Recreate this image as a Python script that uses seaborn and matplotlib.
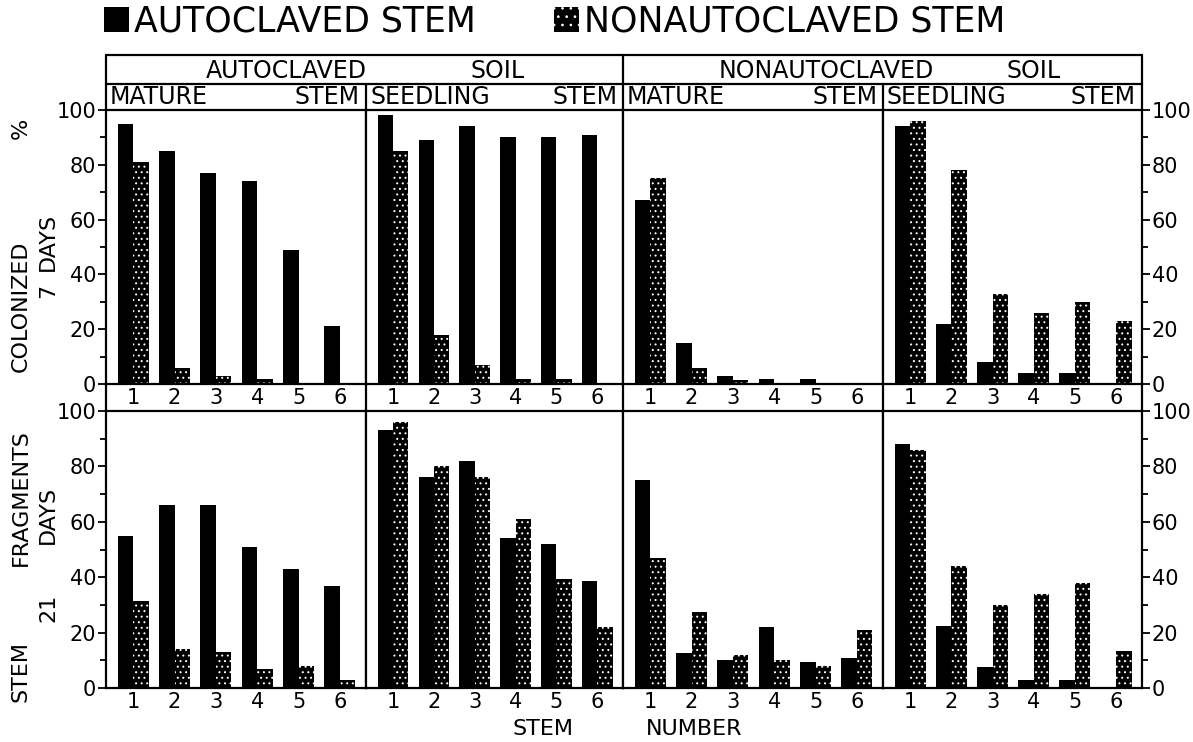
import numpy as np
import pandas as pd
import matplotlib
matplotlib.use("Agg")
import matplotlib.pyplot as plt
import seaborn as sns
from matplotlib.lines import Line2D
from matplotlib.patches import Patch
from matplotlib.ticker import MultipleLocator

# ---------------- data ----------------
stems = ["1", "2", "3", "4", "5", "6"]
treatments = ["AUTOCLAVED STEM", "NONAUTOCLAVED STEM"]
soils = ["AUTOCLAVED", "NONAUTOCLAVED"]
stem_types = ["MATURE", "SEEDLING"]
periods = ["7 DAYS", "21 DAYS"]

# 7 days
d7_auto_mature_auto = [95, 85, 77, 74, 49, 21]
d7_auto_mature_non = [81, 6, 3, 2, 0, 0]
d7_auto_seedling_auto = [98, 89, 94, 90, 90, 91]
d7_auto_seedling_non = [85, 18, 7, 2, 2, 0]
d7_non_mature_auto = [67, 15, 3, 2, 2, 0]
d7_non_mature_non = [75, 6, 1.5, 0, 0, 0]
d7_non_seedling_auto = [94, 22, 8, 4, 4, 0]
d7_non_seedling_non = [96, 78, 33, 26, 30, 23]
# 21 days
d21_auto_mature_auto = [55, 66, 66, 51, 43, 37]
d21_auto_mature_non = [31.5, 14, 13, 7, 8, 3]
d21_auto_seedling_auto = [93, 76, 82, 54, 52, 38.5]
d21_auto_seedling_non = [96, 80, 76, 61, 39.5, 22]
d21_non_mature_auto = [75, 12.5, 10, 22, 9.5, 11]
d21_non_mature_non = [47, 27.5, 12, 10, 8, 21]
d21_non_seedling_auto = [88, 22.5, 7.5, 3, 3, 0]
d21_non_seedling_non = [86, 44, 30, 34, 38, 13.5]

panels = {
    ("7 DAYS", "AUTOCLAVED", "MATURE"): (d7_auto_mature_auto, d7_auto_mature_non),
    ("7 DAYS", "AUTOCLAVED", "SEEDLING"): (d7_auto_seedling_auto, d7_auto_seedling_non),
    ("7 DAYS", "NONAUTOCLAVED", "MATURE"): (d7_non_mature_auto, d7_non_mature_non),
    ("7 DAYS", "NONAUTOCLAVED", "SEEDLING"): (d7_non_seedling_auto, d7_non_seedling_non),
    ("21 DAYS", "AUTOCLAVED", "MATURE"): (d21_auto_mature_auto, d21_auto_mature_non),
    ("21 DAYS", "AUTOCLAVED", "SEEDLING"): (d21_auto_seedling_auto, d21_auto_seedling_non),
    ("21 DAYS", "NONAUTOCLAVED", "MATURE"): (d21_non_mature_auto, d21_non_mature_non),
    ("21 DAYS", "NONAUTOCLAVED", "SEEDLING"): (d21_non_seedling_auto, d21_non_seedling_non),
}

rows = []
for (period, soil, stype), (a, n) in panels.items():
    for s, va, vn in zip(stems, a, n):
        rows.append((period, soil, stype, s, treatments[0], va))
        rows.append((period, soil, stype, s, treatments[1], vn))
df = pd.DataFrame(rows, columns=["period", "soil", "stype", "stem", "treatment", "value"])

# ---------------- style ----------------
sns.set_style("white")
plt.rcParams["font.family"] = ["DejaVu Sans"]
plt.rcParams["hatch.linewidth"] = 0.7
for k in ["text.color", "axes.labelcolor", "xtick.color", "ytick.color"]:
    plt.rcParams[k] = "black"

W, H = 1193, 742
fig = plt.figure(figsize=(W / 100, H / 100), dpi=100)


def fx(x):
    return x / W


def fy(y):
    return 1 - y / H


xedges = [106, 366, 623, 883, 1142]
row_y = [(110, 384), (411, 688)]
LW = 1.6

combos = [(s, t) for s in soils for t in stem_types]
for r, period in enumerate(periods):
    for c, (soil, stype) in enumerate(combos):
        x0, x1 = xedges[c], xedges[c + 1]
        ytop, ybot = row_y[r]
        ax = fig.add_axes([fx(x0), fy(ybot), (x1 - x0) / W, (ybot - ytop) / H])
        sub = df[(df.period == period) & (df.soil == soil) & (df.stype == stype)]
        sns.barplot(data=sub, x="stem", y="value", hue="treatment",
                    hue_order=treatments, order=stems,
                    palette=["black", "black"], saturation=1, width=0.75,
                    gap=0, legend=False, ax=ax, errorbar=None)
        for p in ax.containers[0]:
            p.set_linewidth(0)
        for p in ax.containers[1]:
            p.set_hatch("...")
            p.set_edgecolor("white")
            p.set_linewidth(0)
        ax.set_xlim(-0.66, 5.63)
        ax.set_ylim(0, 100)
        ax.set_xlabel("")
        ax.set_ylabel("")
        for sp in ax.spines.values():
            sp.set_visible(True)
            sp.set_linewidth(LW)
            sp.set_color("black")
        ax.tick_params(axis="x", length=0, pad=3, labelsize=15)
        ax.yaxis.set_major_locator(MultipleLocator(20))
        ax.yaxis.set_minor_locator(MultipleLocator(10))
        if c == 0:
            ax.tick_params(axis="y", which="major", left=True, length=6, width=1.3,
                           labelsize=15, pad=1, direction="out")
            ax.tick_params(axis="y", which="minor", left=True, length=4, width=1.3,
                           direction="out")
        elif c == 3:
            ax.yaxis.tick_right()
            ax.tick_params(axis="y", which="major", right=True, left=False, length=6,
                           width=1.3, labelsize=15, pad=1, direction="out")
            ax.tick_params(axis="y", which="minor", right=True, left=False, length=4,
                           width=1.3, direction="out")
        else:
            ax.tick_params(axis="y", which="both", left=False, right=False,
                           labelleft=False, labelright=False)


def hline(y, xa, xb):
    fig.add_artist(Line2D([fx(xa), fx(xb)], [fy(y), fy(y)], color="black",
                          lw=LW, transform=fig.transFigure))


def vline(x, ya, yb):
    fig.add_artist(Line2D([fx(x), fx(x)], [fy(ya), fy(yb)], color="black",
                          lw=LW, transform=fig.transFigure))


# header box
hline(55, 106, 1142)
hline(84, 106, 1142)
vline(106, 55, 110)
vline(1142, 55, 110)
vline(623, 55, 110)
vline(366, 84, 110)
vline(883, 84, 110)
# vertical separators through the band between rows
for x in xedges:
    vline(x, 384, 411)

# header text
hdr = dict(fontsize=17, ha="center", va="center")
fig.text(fx(286), fy(71), soils[0], **hdr)
fig.text(fx(498), fy(71), "SOIL", **hdr)
fig.text(fx(826), fy(71), soils[1], **hdr)
fig.text(fx(1034), fy(71), "SOIL", **hdr)
for c, (soil, stype) in enumerate(combos):
    x0, x1 = xedges[c], xedges[c + 1]
    fig.text(fx(x0 + 4), fy(97), stype, fontsize=17, ha="left", va="center")
    fig.text(fx(x1 - 6), fy(97), "STEM", fontsize=17, ha="right", va="center")

# left side labels
lab = dict(fontsize=16, rotation=90, ha="center", va="center")
fig.text(fx(21), fy(128), "%", **lab)
fig.text(fx(21), fy(306), "COLONIZED", **lab)
fig.text(fx(21), fy(498), "FRAGMENTS", **lab)
fig.text(fx(21), fy(671), "STEM", **lab)
fig.text(fx(48), fy(242), "DAYS", **lab)
fig.text(fx(48), fy(291), "7", **lab)
fig.text(fx(48), fy(515), "DAYS", **lab)
fig.text(fx(48), fy(608), "21", **lab)

# bottom axis label
fig.text(fx(543), fy(729), "STEM", fontsize=16, ha="center", va="center")
fig.text(fx(694), fy(729), "NUMBER", fontsize=16, ha="center", va="center")

# legend
handles = [Patch(facecolor="black", edgecolor="black", linewidth=0),
           Patch(facecolor="black", edgecolor="white", hatch="..", linewidth=0)]
fig.legend(handles=handles, labels=treatments, ncol=2, loc="upper left",
           bbox_to_anchor=(fx(104), fy(5)), frameon=False, fontsize=25,
           handlelength=0.72, handleheight=0.72, handletextpad=0.15,
           columnspacing=2.25, borderpad=0, borderaxespad=0)

fig.savefig("out.png", dpi=100, facecolor="white")
